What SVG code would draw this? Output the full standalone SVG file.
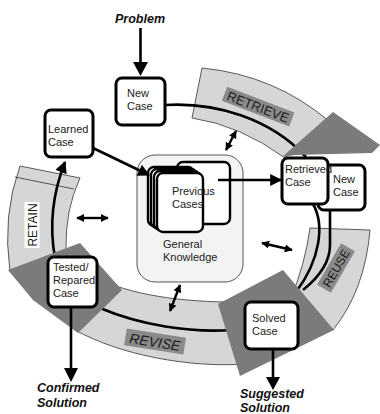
<svg xmlns="http://www.w3.org/2000/svg" width="380" height="414" viewBox="0 0 380 414">
<style>
.band{fill:#d6d6d6;stroke:#333;stroke-width:0.8}
.dark{fill:#7b7b7b}
.lab{fill:#8a8a8a}
.ring{fill:none;stroke:#000;stroke-width:2.6}
.box{fill:#fff;stroke:#000;stroke-width:3}
.card{fill:#fff;stroke:#000;stroke-width:2.4}
.t{font-family:"Liberation Sans",Arial,sans-serif;font-size:11px;fill:#222}
.bi{font-family:"Liberation Sans",Arial,sans-serif;font-size:12.5px;font-weight:bold;font-style:italic;fill:#111}
.lt{font-family:"Liberation Sans",Arial,sans-serif;fill:#1a1a1a;text-anchor:middle}
.arr{fill:none;stroke:#000;stroke-width:2.6}
.dbl{fill:none;stroke:#000;stroke-width:2.4}
</style>
<defs>
<marker id="ah" viewBox="0 0 10 10" refX="9" refY="5" markerWidth="13" markerHeight="12" markerUnits="userSpaceOnUse" orient="auto-start-reverse"><path d="M0,0 L10,5 L0,10 z" fill="#000"/></marker>
<marker id="dh" viewBox="0 0 10 10" refX="9" refY="5" markerWidth="8" markerHeight="8" markerUnits="userSpaceOnUse" orient="auto-start-reverse"><path d="M0,0 L10,5 L0,10 z" fill="#000"/></marker>
</defs>

<g id="bands">
<path class="band" d="M202,68 Q275,75 330,122 L285,158 Q240,125 192,118 Z"/>
<path class="band" d="M310,228 L370,230 Q365,290 333,330 L290,300 Q305,265 310,228 Z"/>
<path class="band" d="M100,280 C140,297 190,303 250,302 L245,364 C190,368 120,355 75,330 Z"/>
<path class="band" d="M20,166 L80,178 Q65,210 66,250 L10,272 Q2,215 20,166 Z"/>
<line x1="15" y1="177" x2="74" y2="189" stroke="#333" stroke-width="0.8"/>
</g>

<g id="labels">
<g transform="translate(258,107) rotate(21)"><rect class="lab" x="-36" y="-8" width="72" height="15"/><text class="lt" x="0" y="4.5" font-size="13">RETRIEVE</text></g>
<g transform="translate(336,268) rotate(-60)"><rect class="lab" x="-24" y="-8" width="48" height="16"/><text class="lt" x="0" y="4.5" font-size="12">REUSE</text></g>
<g transform="translate(155,342) rotate(9)"><rect class="lab" x="-30" y="-9" width="60" height="17"/><text class="lt" x="0" y="5" font-size="14" font-style="italic">REVISE</text></g>
<g transform="translate(32,225) rotate(-90)"><rect x="-23" y="-7.5" width="46" height="15" fill="#fff"/><text class="lt" x="0" y="4.5" font-size="12">RETAIN</text></g>
</g>

<g id="connectors">
<path class="ring" d="M165,105 C215,102 270,118 306,157"/>
<path class="ring" d="M313,204 C325,225 320,260 296,292"/>
<path class="ring" d="M330,210 L330,245 C330,262 318,278 303,290"/>
<path class="ring" d="M100,308 C140,325 190,333 232,330"/>
<path class="ring" d="M55,258 C49,225 52,195 65,162" marker-end="url(#ah)"/>
</g>

<g id="shapes">
<polygon class="dark" points="282,157 333,112 380,145 372,153 295,155"/>
<polygon class="dark" points="218,304 283,270 334,330 240,376"/>
<polygon class="dark" points="8,270 80,243 122,290 78,333 33,300"/>
</g>

<g id="general-knowledge">
<rect x="137" y="155" width="106" height="127" rx="18" fill="#f3f3f3" stroke="#555" stroke-width="1"/>
<text class="t" x="163" y="248">General</text>
<text class="t" x="163" y="261">Knowledge</text>
</g>

<g id="previous-cases">
<rect class="card" x="177" y="162" width="53" height="62" rx="6"/>
<rect class="card" x="148" y="167" width="46" height="59" rx="6"/>
<rect class="card" x="151" y="169" width="46" height="59" rx="6"/>
<rect class="card" x="154" y="171" width="46" height="59" rx="6"/>
<rect class="card" x="157" y="173" width="46" height="59" rx="6"/>
<text class="t" x="172" y="195">Previous</text>
<text class="t" x="172" y="208">Cases</text>
</g>

<g id="new-case-top">
<rect class="box" x="116" y="78" width="49" height="47" rx="6"/>
<text class="t" x="127" y="97">New</text>
<text class="t" x="127" y="110">Case</text>
</g>

<g id="learned-case">
<rect class="box" x="45" y="110" width="48" height="47" rx="6"/>
<text class="t" x="48" y="133">Learned</text>
<text class="t" x="48" y="146">Case</text>
</g>

<g id="new-case-right">
<rect class="box" x="318" y="165" width="47" height="45" rx="6"/>
<text class="t" x="333" y="183" font-size="10.5">New</text>
<text class="t" x="333" y="196" font-size="10.5">Case</text>
</g>

<g id="retrieved-case">
<rect class="box" x="282" y="158" width="46" height="46" rx="6"/>
<text class="t" x="285" y="173" font-size="9.5">Retrieved</text>
<text class="t" x="285" y="186" font-size="10">Case</text>
</g>

<g id="solved-case">
<rect class="box" x="245" y="302" width="53" height="47" rx="6"/>
<text class="t" x="252" y="322">Solved</text>
<text class="t" x="252" y="335">Case</text>
</g>

<g id="tested-case">
<rect class="box" x="48" y="257" width="49" height="50" rx="6"/>
<text class="t" x="53" y="271">Tested/</text>
<text class="t" x="53" y="284">Repared</text>
<text class="t" x="53" y="297">Case</text>
</g>

<g id="arrows">
<line class="arr" x1="140.5" y1="28" x2="140.5" y2="64"/>
<polygon points="133,62 148,62 140.5,76" fill="#000"/>
<line class="arr" x1="71" y1="307" x2="71" y2="370"/>
<polygon points="64,368 78,368 71,382" fill="#000"/>
<line class="arr" x1="273" y1="349" x2="273" y2="379"/>
<polygon points="266,377 280,377 273,390" fill="#000"/>
<line class="arr" x1="93" y1="148" x2="149" y2="175" marker-end="url(#ah)"/>
<line class="arr" x1="218" y1="180" x2="281" y2="180" marker-end="url(#ah)"/>
<line class="dbl" x1="236" y1="131" x2="226" y2="150" marker-start="url(#dh)" marker-end="url(#dh)"/>
<line class="dbl" x1="77" y1="218" x2="108" y2="218" marker-start="url(#dh)" marker-end="url(#dh)"/>
<line class="dbl" x1="262" y1="243" x2="292" y2="250" marker-start="url(#dh)" marker-end="url(#dh)"/>
<line class="dbl" x1="180" y1="285" x2="170" y2="311" marker-start="url(#dh)" marker-end="url(#dh)"/>
</g>

<g id="io-labels">
<text class="bi" x="115" y="23" font-size="13.5">Problem</text>
<text class="bi" x="37" y="392">Confirmed</text>
<text class="bi" x="37" y="407">Solution</text>
<text class="bi" x="240" y="398">Suggested</text>
<text class="bi" x="240" y="412">Solution</text>
</g>
</svg>
